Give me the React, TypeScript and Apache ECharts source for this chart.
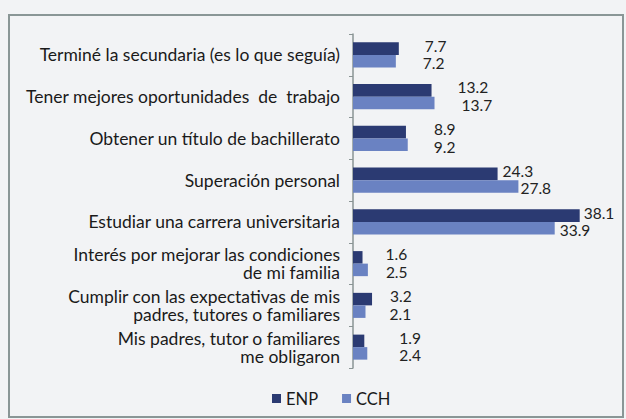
import React, { useEffect, useRef } from "react";
import * as echarts from "echarts";

const categories = [
  "Terminé la secundaria (es lo que seguía)",
  "Tener mejores oportunidades  de  trabajo",
  "Obtener un título de bachillerato",
  "Superación personal",
  "Estudiar una carrera universitaria",
  "Interés por mejorar las condiciones\nde mi familia",
  "Cumplir con las expectativas de mis\npadres, tutores o familiares",
  "Mis padres, tutor o familiares\nme obligaron",
];
const seriesNames = ["ENP", "CCH"];
const enpValues = [7.7, 13.2, 8.9, 24.3, 38.1, 1.6, 3.2, 1.9];
const cchValues = [7.2, 13.7, 9.2, 27.8, 33.9, 2.5, 2.1, 2.4];

const FONT = "Lato, 'Liberation Sans', sans-serif";
const enpGaps = [26, 26, 28, 5, 4, 23, 18, 35];
const cchGaps = [27, 27, 26, 2, 5, 18, 24, 32];

export default function App() {
  const ref = useRef<HTMLDivElement>(null);
  useEffect(() => {
    if (!ref.current) return;
    const chart = echarts.init(ref.current, null, { renderer: "svg" });
    const mk = (vals: number[], gaps: number[], dy: number) =>
      vals.map((v, i) => ({
        value: v,
        label: { distance: gaps[i], offset: [0, dy] },
      }));
    const valueLabel = {
      show: true,
      position: "right",
      fontSize: 15.5,
      lineHeight: 14,
      color: "#222",
      fontFamily: FONT,
      formatter: (p: any) => p.value.toFixed(1),
    };
    chart.setOption({
      animation: false,
      backgroundColor: "#f2f3f5",
      textStyle: { fontFamily: FONT },
      graphic: [
        {
          type: "rect",
          shape: { x: 9, y: 15, width: 614, height: 402 },
          style: { fill: "transparent", stroke: "#8a9696", lineWidth: 2 },
          silent: true,
        },
      ],
      legend: {
        data: seriesNames,
        bottom: 7,
        left: 267,
        icon: "rect",
        itemWidth: 9,
        itemHeight: 9,
        itemGap: 24,
        textStyle: { fontSize: 16.5, color: "#1a1a1a", fontFamily: FONT },
      },
      grid: { left: 353, right: 35, top: 34, bottom: 51 },
      xAxis: {
        type: "value",
        min: 0,
        max: 40,
        show: false,
      },
      yAxis: {
        type: "category",
        inverse: true,
        data: categories,
        axisLine: { show: true, lineStyle: { color: "#8a9494", width: 1.5 } },
        axisTick: { show: true, length: 4, lineStyle: { color: "#8a9494" } },
        axisLabel: {
          margin: 13,
          fontSize: 17.5,
          lineHeight: 18,
          color: "#1a1a1a",
          fontFamily: FONT,
          align: "right",
        },
        splitLine: { show: false },
      },
      series: [
        {
          name: seriesNames[0],
          type: "bar",
          data: mk(enpValues, enpGaps, -3),
          barGap: "0%",
          barCategoryGap: "40%",
          itemStyle: { color: "#2b3a72" },
          label: valueLabel,
        },
        {
          name: seriesNames[1],
          type: "bar",
          data: mk(cchValues, cchGaps, 2),
          barGap: "0%",
          barCategoryGap: "40%",
          itemStyle: { color: "#6a82c2" },
          label: valueLabel,
        },
      ],
    });
    return () => chart.dispose();
  }, []);
  return (
    <div
      ref={ref}
      style={{ position: "fixed", left: 0, top: 0, width: 626, height: 419 }}
    />
  );
}
